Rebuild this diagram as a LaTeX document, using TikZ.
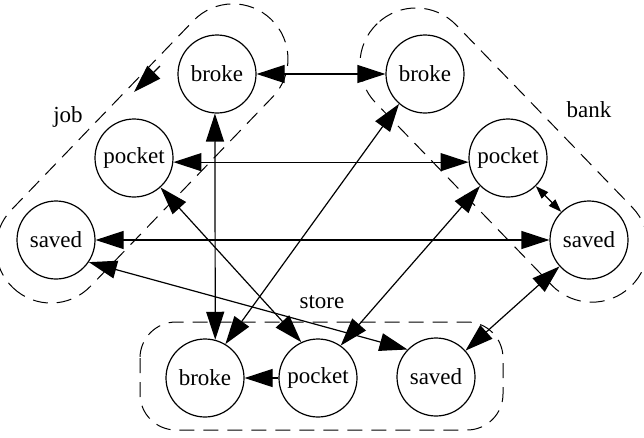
\documentclass[tikz,border=0pt]{standalone}
\usepackage{fontspec}
\setmainfont{Liberation Serif}
\usetikzlibrary{arrows.meta}

\begin{document}
\begin{tikzpicture}[x=1pt, y=-1pt, line width=1.2pt, % 1px = 1pt、y軸は下向き
    >={Triangle[length=28pt,width=18pt]}, % 矢印の形
    state/.style={draw, circle, minimum size=78pt, inner sep=0pt, font=\fontsize{23}{27}\selectfont},
    cluster/.style={draw, line width=1pt, dash pattern=on 15pt off 9pt},
    lab/.style={font=\fontsize{23}{27}\selectfont},
    tiny/.style={{Triangle[length=13pt,width=9pt]}-{Triangle[length=13pt,width=9pt]}}]
    \useasboundingbox (0,0) rectangle (644,437); % 全体の大きさ

    % クラスタの枠(破線)
    \begin{scope}[shift={(51,248)}, rotate=46.1] % job
        \draw[cluster, rounded corners=54.9pt] (-55,-55) rectangle (317.4,55);
    \end{scope}
    \begin{scope}[shift={(416,64)}, rotate=-46] % bank
        \draw[cluster, rounded corners=55.9pt] (-56,-56) rectangle (309.2,56);
    \end{scope}
    \draw[cluster, rounded corners=36pt] (140,322) rectangle (503,430); % store

    \node[lab] (joblab) at (68,117) {job}; % クラスタ名
    \node[lab] (banklab) at (589,110) {bank};
    \node[lab] (storelab) at (322,302) {store};

    % 状態
    \node[state] (jb) at (217,74) {broke};
    \node[state] (jp) at (134,158) {pocket};
    \node[state] (js) at (56,240) {saved};
    \node[state] (bb) at (425,74) {broke};
    \node[state] (bp) at (508,158) {pocket};
    \node[state] (bs) at (589,240) {saved};
    \node[state] (sb) at (205,378) {broke};
    \node[state] (sp) at (318,378) {pocket};
    \node[state] (ss) at (436,377) {saved};

    % 遷移
    \draw[<->] (jb) -- (bb);
    \draw[<->] (jp.-6) -- (bp.-174);
    \draw[<->] (js) -- (bs);
    \draw[<->] (jb.-93) -- (sb.75);
    \draw[<->] (jp.-48) -- (sp.115);
    \draw[<->] (bb.-131) -- (sb.59);
    \draw[<->] (bp.-135) -- (sp.55);
    \draw[tiny] (bp) -- (bs); % 短いので小さい矢印
    \draw[<->] (bs) -- (ss);
    \draw[<->] (js.-34) -- (ss.136);
    \draw[->] (sp) -- (sb);

    \coordinate (jobtail) at (160,66); % 枠の上の矢印
    \coordinate (jobhead) at (134,92);
    \draw[->] (jobtail) -- (jobhead);
\end{tikzpicture}
\end{document}
